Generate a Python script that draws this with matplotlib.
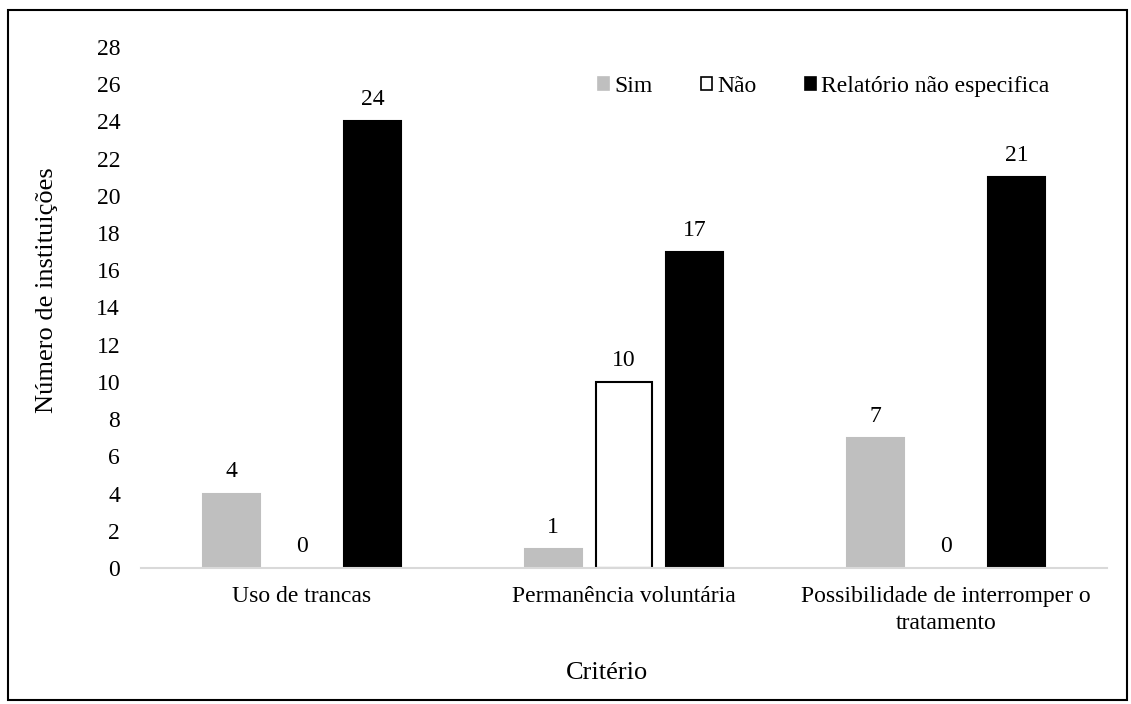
import matplotlib
matplotlib.use("Agg")
import matplotlib.pyplot as plt
import numpy as np
from matplotlib.patches import Rectangle, Patch

plt.rcParams['font.family'] = ['Liberation Serif', 'DejaVu Serif']

categories = ["Uso de trancas", "Permanência voluntária",
              "Possibilidade de interromper o\ntratamento"]
series_names = ["Sim", "Não", "Relatório não especifica"]
sim = [4, 1, 7]
nao = [0, 10, 0]
relatorio = [24, 17, 21]
yticks = list(range(0, 29, 2))

fills = ["#bfbfbf", "white", "black"]
edges = ["#bfbfbf", "black", "black"]

W, H = 1131, 704
fig = plt.figure(figsize=(W / 100, H / 100), dpi=100)
ax = fig.add_axes([141 / W, 1 - 568 / H, (1107 - 141) / W, (568 - 47) / H])

x = np.arange(len(categories))
width = 0.177
step = 0.22
fs = 17
title_fs = 19

for i, (vals, fc, ec) in enumerate(zip([sim, nao, relatorio], fills, edges)):
    lws = [0 if v == 0 else 1.5 for v in vals]
    bars = ax.bar(x + (i - 1) * step, vals, width, color=fc, edgecolor=ec,
                  linewidth=lws, zorder=3)
    ax.bar_label(bars, labels=[str(v) for v in vals], padding=8, fontsize=fs)

ax.set_xlim(-0.5, 2.5)
ax.set_ylim(0, 28)
ax.set_yticks(yticks)
ax.set_xticks(x)
ax.set_xticklabels(categories, fontsize=fs, linespacing=1.35)
ax.tick_params(axis='y', length=0, labelsize=fs, pad=15)
ax.tick_params(axis='x', length=0, pad=13)
for s in ["top", "right", "left"]:
    ax.spines[s].set_visible(False)
ax.spines["bottom"].set_color("#d9d9d9")
ax.spines["bottom"].set_linewidth(1.5)
ax.spines["bottom"].set_zorder(4)

ax.set_ylabel("Número de instituições", fontsize=title_fs)
ax.yaxis.set_label_coords(-0.086, 0.534)
fig.text(607 / W, 1 - 673 / H, "Critério", fontsize=title_fs, ha="center", va="center")

handles = [Patch(facecolor=fc, edgecolor=ec, linewidth=1.2)
           for fc, ec in zip(fills, edges)]
ax.legend(handles, series_names, loc="upper left",
          bbox_to_anchor=(577 / W, 1 - 55 / H),
          bbox_transform=fig.transFigure, ncol=3, frameon=False,
          fontsize=fs, handlelength=0.47, handleheight=0.47,
          handletextpad=0.22, columnspacing=2.05)

fig.patches.append(Rectangle((8 / W, 1 - 700 / H), (1127 - 8) / W, (700 - 10) / H,
                             transform=fig.transFigure, fill=False,
                             edgecolor="black", linewidth=1.5))

fig.savefig("out.png", dpi=100)
